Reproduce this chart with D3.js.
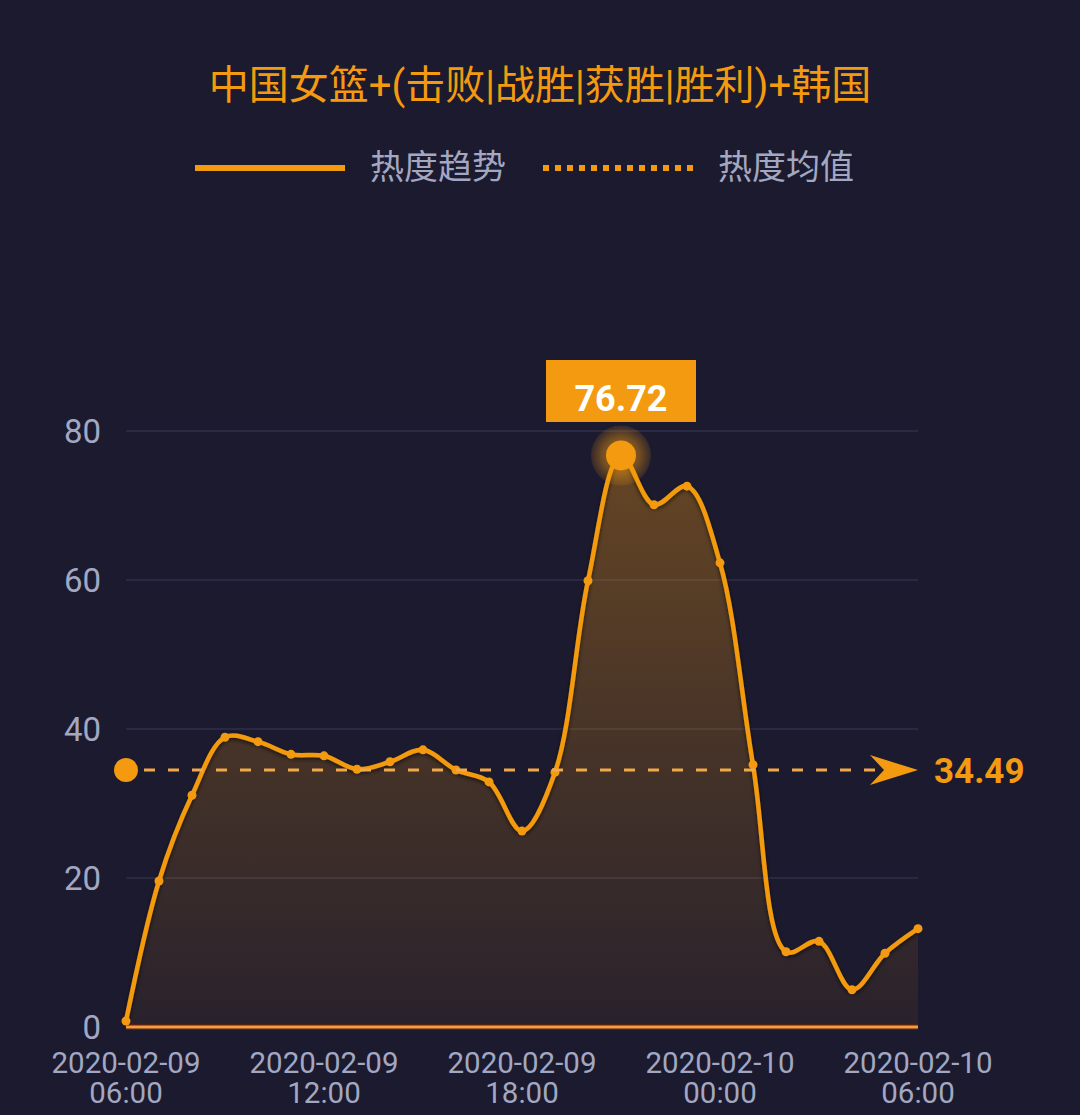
<!DOCTYPE html>
<html><head><meta charset="utf-8">
<script src="https://cdn.jsdelivr.net/npm/d3@7/dist/d3.min.js"></script>
<style>
html,body{margin:0;padding:0;background:#1c1a2e;}
#wrap{position:relative;width:1080px;height:1115px;}
svg{display:block;position:absolute;left:0;top:0;}
text{font-family:Roboto,"Noto Sans CJK SC",sans-serif;}
.xl{position:absolute;width:180px;margin-left:-90px;text-align:center;color:#a2a8c2;
  font-family:Roboto,sans-serif;font-size:29.5px;line-height:29.5px;white-space:pre;}
</style></head><body>
<div id="wrap"><svg id="chart" width="1080" height="1115"></svg></div>
<script>
const title = "中国女篮+(击败|战胜|获胜|胜利)+韩国";
const legendNames = ["热度趋势", "热度均值"];
const times = ["2020-02-09 06:00","2020-02-09 07:00","2020-02-09 08:00","2020-02-09 09:00","2020-02-09 10:00","2020-02-09 11:00","2020-02-09 12:00","2020-02-09 13:00","2020-02-09 14:00","2020-02-09 15:00","2020-02-09 16:00","2020-02-09 17:00","2020-02-09 18:00","2020-02-09 19:00","2020-02-09 20:00","2020-02-09 21:00","2020-02-09 22:00","2020-02-09 23:00","2020-02-10 00:00","2020-02-10 01:00","2020-02-10 02:00","2020-02-10 03:00","2020-02-10 04:00","2020-02-10 05:00","2020-02-10 06:00"];
const values = [0.8,19.6,31.1,38.9,38.3,36.6,36.4,34.6,35.6,37.2,34.5,32.9,26.3,34.2,59.9,76.72,70.1,72.6,62.3,35.2,10.1,11.5,5.0,9.9,13.2];
const yTicks = [0,20,40,60,80];
const xTickLabels = ["2020-02-09 06:00","2020-02-09 12:00","2020-02-09 18:00","2020-02-10 00:00","2020-02-10 06:00"];
const meanValue = 34.49;
const maxValue = 76.72;

const orange = "#f39a10";
const gray = "#a2a8c2";
const svg = d3.select("#chart");

const parse = d3.timeParse("%Y-%m-%d %H:%M");
const data = times.map((t,i)=>({t:parse(t), v:values[i]}));

const x = d3.scaleTime().domain([parse(times[0]), parse(times[times.length-1])]).range([126, 918]);
const y = d3.scaleLinear().domain([0,80]).range([1027, 431]);

// title
svg.append("text").attr("x",540).attr("y",99).attr("text-anchor","middle")
  .attr("fill",orange).attr("font-size",40).text(title);

// legend
svg.append("line").attr("x1",195).attr("x2",345).attr("y1",168).attr("y2",168)
  .attr("stroke",orange).attr("stroke-width",6);
svg.append("text").attr("x",370).attr("y",179).attr("fill",gray).attr("font-size",34).text(legendNames[0]);
svg.append("line").attr("x1",543).attr("x2",693).attr("y1",168).attr("y2",168)
  .attr("stroke",orange).attr("stroke-width",6).attr("stroke-dasharray","6,6");
svg.append("text").attr("x",718).attr("y",179).attr("fill",gray).attr("font-size",34).text(legendNames[1]);

// grid
svg.append("g").selectAll("line").data(yTicks.filter(d=>d>0)).join("line")
  .attr("x1",126).attr("x2",918).attr("y1",d=>y(d)).attr("y2",d=>y(d))
  .attr("stroke","#2b2942").attr("stroke-width",2);

// y labels
const yAxis = d3.axisLeft(y).tickValues(yTicks).tickSize(0).tickPadding(0);
const gy = svg.append("g").attr("transform","translate(101,0)").call(yAxis);
gy.select(".domain").remove();
gy.selectAll("text").attr("fill",gray).attr("font-size",33).attr("font-family","Roboto,sans-serif").attr("dy","0.35em");

// gradient
const defs = svg.append("defs");
const grad = defs.append("linearGradient").attr("id","ag").attr("x1",0).attr("y1",0).attr("x2",0).attr("y2",1);
grad.append("stop").attr("offset","0%").attr("stop-color","#f39a10").attr("stop-opacity",0.34);
grad.append("stop").attr("offset","100%").attr("stop-color","#f39a10").attr("stop-opacity",0.06);
const glow = defs.append("radialGradient").attr("id","glow");
glow.append("stop").attr("offset","0%").attr("stop-color","#f39a10").attr("stop-opacity",0.9);
glow.append("stop").attr("offset","60%").attr("stop-color","#f39a10").attr("stop-opacity",0.55);
glow.append("stop").attr("offset","100%").attr("stop-color","#f39a10").attr("stop-opacity",0.15);
const shadow = defs.append("filter").attr("id","sh").attr("x","-10%").attr("y","-10%").attr("width","120%").attr("height","120%");
shadow.append("feDropShadow").attr("dx",0).attr("dy",2).attr("stdDeviation",2).attr("flood-color","#000").attr("flood-opacity",0.6);

const curve = d3.curveCatmullRom.alpha(0.5);
const area = d3.area().x(d=>x(d.t)).y0(y(0)).y1(d=>y(d.v)).curve(curve);
const line = d3.line().x(d=>x(d.t)).y(d=>y(d.v)).curve(curve);

svg.append("path").datum(data).attr("d",area).attr("fill","url(#ag)");

// x axis line
svg.append("line").attr("x1",126).attr("x2",918).attr("y1",y(0)).attr("y2",y(0))
  .attr("stroke","#5a1e10").attr("stroke-width",6);
svg.append("line").attr("x1",126).attr("x2",918).attr("y1",y(0)).attr("y2",y(0))
  .attr("stroke","#f0a040").attr("stroke-width",3);

// x labels (HTML, two lines each)
d3.select("#wrap").selectAll("div.xl").data(xTickLabels).join("div")
  .attr("class","xl")
  .style("left",d=>x(parse(d))+"px")
  .style("top","1049px")
  .text(d=>d.replace(" ","\n"));

// line
svg.append("path").datum(data).attr("d",line).attr("fill","none")
  .attr("stroke",orange).attr("stroke-width",4.5).attr("filter","url(#sh)");
svg.append("g").selectAll("circle").data(data).join("circle")
  .attr("cx",d=>x(d.t)).attr("cy",d=>y(d.v)).attr("r",4.5).attr("fill",orange);

// mean line
const my = y(meanValue);
svg.append("line").attr("x1",144).attr("x2",885).attr("y1",my).attr("y2",my)
  .attr("stroke","#f0a84a").attr("stroke-width",3).attr("stroke-dasharray","11,13");
svg.append("circle").attr("cx",126).attr("cy",my).attr("r",12).attr("fill",orange);
svg.append("path").attr("d",`M${918},${my} L${870},${my-15} L${884},${my} L${870},${my+15} Z`).attr("fill",orange);
svg.append("text").attr("x",934).attr("y",my).attr("dy","0.36em").attr("fill",orange)
  .attr("font-size",35).attr("font-weight","bold").text(meanValue.toFixed(2));

// max point
const maxD = data.find(d=>d.v===maxValue);
const mx = x(maxD.t), myy = y(maxD.v);
svg.append("circle").attr("cx",mx).attr("cy",myy).attr("r",30).attr("fill","url(#glow)").attr("opacity",0.75);
svg.append("circle").attr("cx",mx).attr("cy",myy).attr("r",15).attr("fill",orange);
svg.append("rect").attr("x",mx-75).attr("y",360).attr("width",150).attr("height",62).attr("fill",orange);
svg.append("text").attr("x",mx).attr("y",398).attr("dy","0.35em").attr("text-anchor","middle").attr("fill","#fff")
  .attr("font-size",36).attr("font-weight","bold").text(maxValue.toFixed(2));
</script></body></html>
